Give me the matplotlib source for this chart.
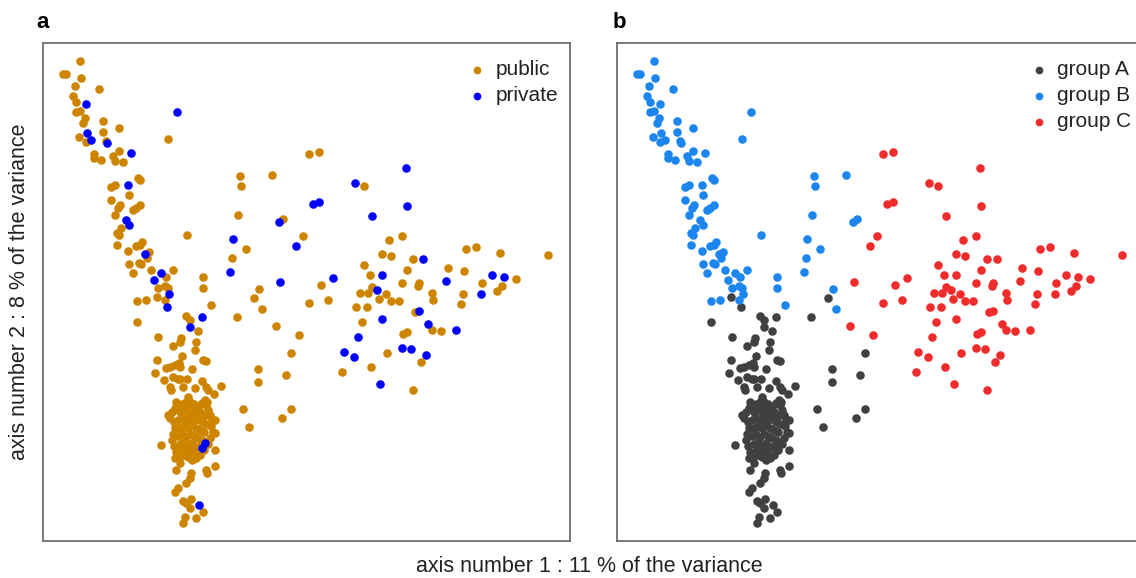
import numpy as np
import matplotlib
matplotlib.use("Agg")
import matplotlib.pyplot as plt

# PCA scores (axis 1, axis 2), one list per genetic group,
# third field = sector of the sample (public / private)
group_a = [
    (157, 297, "pu"), (167, 307, "pr"), (254, 298, "pu"), (237, 317, "pu"), (137, 322, "pu"),
    (186, 316, "pu"), (190, 320, "pu"), (202, 317, "pr"), (190, 327, "pr"), (198, 331, "pu"),
    (158, 337, "pu"), (181, 338, "pu"), (180, 342, "pu"), (196, 342, "pu"), (173, 346, "pu"),
    (195, 350, "pu"), (182, 356, "pu"), (157, 360, "pu"), (203, 360, "pu"), (206, 361, "pu"),
    (166, 368, "pu"), (170, 367, "pu"), (175, 365, "pu"), (179, 363, "pu"), (180, 367, "pu"),
    (192, 369, "pu"), (155, 373, "pu"), (164, 380, "pu"), (173, 377, "pu"), (178, 379, "pu"),
    (180, 379, "pu"), (187, 379, "pu"), (170, 387, "pu"), (171, 390, "pu"), (183, 387, "pu"),
    (195, 388, "pu"), (202, 381, "pu"), (206, 387, "pu"), (208, 390, "pu"), (214, 394, "pu"),
    (221, 386, "pu"), (176, 402, "pu"), (188, 397, "pu"), (190, 402, "pu"), (205, 400, "pu"),
    (207, 402, "pu"),
    (291, 353, "pu"), (258, 369, "pu"), (258, 382, "pu"), (286, 375, "pu"), (243, 409, "pu"),
    (291, 409, "pu"), (282, 418, "pu"), (249, 427, "pu"),
    # dense core
    (168, 415, "pu"), (170, 418, "pu"), (172, 412, "pu"), (175, 408, "pu"), (178, 405, "pu"),
    (182, 404, "pu"), (186, 402, "pu"), (190, 405, "pu"), (194, 404, "pu"), (198, 407, "pu"),
    (202, 403, "pu"), (206, 405, "pu"), (208, 410, "pu"), (210, 415, "pu"), (212, 420, "pu"),
    (211, 426, "pu"), (213, 432, "pu"), (210, 438, "pu"), (208, 444, "pu"), (204, 450, "pu"),
    (200, 455, "pu"), (196, 458, "pu"), (192, 460, "pu"), (188, 457, "pu"), (184, 455, "pu"),
    (180, 456, "pu"), (176, 452, "pu"), (174, 446, "pu"), (172, 440, "pu"), (173, 434, "pu"),
    (175, 428, "pu"), (174, 422, "pu"),
    (180, 412, "pu"), (184, 410, "pu"), (188, 412, "pu"), (192, 410, "pu"), (196, 413, "pu"),
    (200, 412, "pu"), (204, 416, "pu"), (178, 420, "pu"), (182, 418, "pu"), (186, 420, "pu"),
    (190, 418, "pu"), (194, 420, "pu"), (198, 419, "pu"), (202, 422, "pu"), (206, 424, "pu"),
    (180, 428, "pu"), (184, 426, "pu"), (188, 428, "pu"), (192, 425, "pu"), (196, 428, "pu"),
    (200, 430, "pu"), (204, 432, "pu"), (178, 436, "pu"), (182, 434, "pu"), (186, 437, "pu"),
    (190, 434, "pu"), (194, 436, "pu"), (198, 438, "pu"), (202, 440, "pu"), (180, 444, "pu"),
    (184, 442, "pu"), (188, 446, "pu"), (192, 443, "pu"), (196, 447, "pu"), (200, 446, "pu"),
    (182, 450, "pu"), (186, 452, "pu"), (190, 450, "pu"), (194, 452, "pu"),
    (215, 420, "pu"), (215, 433, "pu"),
    # tail
    (161, 445, "pu"), (205, 443, "pr"), (202, 448, "pr"), (215, 450, "pu"), (175, 458, "pu"),
    (180, 463, "pu"), (176, 470, "pu"), (206, 470, "pu"), (207, 473, "pu"), (215, 466, "pu"),
    (191, 473, "pu"), (190, 478, "pu"), (186, 483, "pu"), (178, 488, "pu"), (175, 492, "pu"),
    (183, 501, "pu"), (186, 503, "pu"), (191, 499, "pu"), (190, 508, "pu"), (199, 505, "pr"),
    (203, 512, "pu"), (196, 518, "pu"), (185, 517, "pu"), (183, 523, "pu"),
]

group_b = [
    (80, 61, "pu"), (63, 74, "pu"), (66, 74, "pu"), (81, 78, "pu"), (75, 86, "pu"),
    (99, 89, "pu"), (73, 96, "pu"), (76, 102, "pu"), (86, 104, "pr"), (76, 112, "pu"),
    (80, 111, "pu"), (85, 118, "pu"), (83, 123, "pu"), (103, 121, "pu"), (119, 128, "pu"),
    (103, 132, "pu"), (177, 112, "pr"), (168, 139, "pu"), (87, 133, "pr"), (91, 140, "pr"),
    (79, 137, "pu"), (86, 142, "pu"), (106, 141, "pu"), (107, 143, "pr"), (131, 153, "pr"),
    (119, 151, "pu"), (94, 154, "pu"), (94, 158, "pu"), (101, 160, "pu"), (113, 156, "pu"),
    (115, 161, "pu"), (123, 162, "pu"), (138, 178, "pu"), (140, 180, "pu"), (111, 187, "pu"),
    (115, 185, "pu"), (128, 185, "pr"), (129, 195, "pu"), (111, 200, "pu"), (120, 205, "pu"),
    (118, 208, "pu"), (133, 210, "pu"), (136, 208, "pu"), (140, 205, "pu"), (115, 215, "pu"),
    (126, 220, "pr"), (129, 225, "pr"), (121, 228, "pu"), (117, 233, "pu"), (119, 235, "pu"),
    (187, 235, "pu"), (117, 245, "pu"), (136, 246, "pu"), (140, 245, "pu"), (142, 242, "pu"),
    (128, 251, "pu"), (149, 252, "pu"), (145, 254, "pr"), (147, 258, "pu"), (129, 264, "pu"),
    (139, 263, "pu"), (141, 264, "pu"), (133, 273, "pu"), (151, 270, "pu"), (173, 270, "pu"),
    (161, 273, "pr"), (154, 280, "pr"), (166, 277, "pu"), (203, 277, "pu"), (203, 288, "pu"),
    (158, 288, "pu"), (165, 286, "pu"), (168, 288, "pu"), (169, 294, "pr"),
    (137, 301, "pu"), (146, 300, "pu"), (165, 300, "pu"), (211, 305, "pu"),
    (240, 176, "pu"), (241, 186, "pu"), (272, 175, "pu"), (238, 215, "pu"), (283, 219, "pu"),
    (279, 222, "pr"), (233, 239, "pr"), (246, 249, "pu"), (232, 258, "pu"), (230, 272, "pr"),
    (259, 289, "pu"), (262, 309, "pu"),
]

group_c = [
    (309, 154, "pu"), (319, 152, "pu"), (355, 183, "pr"), (364, 186, "pu"), (313, 204, "pr"),
    (319, 202, "pr"), (372, 216, "pr"), (303, 236, "pu"), (296, 246, "pr"), (389, 240, "pu"),
    (382, 254, "pu"), (391, 256, "pu"), (364, 265, "pu"), (280, 282, "pr"), (333, 278, "pr"),
    (370, 275, "pu"), (382, 275, "pr"), (321, 285, "pu"), (372, 287, "pu"), (377, 290, "pr"),
    (360, 293, "pu"), (368, 293, "pu"), (386, 294, "pu"),
    (406, 168, "pr"), (407, 206, "pr"), (402, 236, "pu"), (413, 259, "pu"), (423, 259, "pr"),
    (466, 249, "pu"), (476, 247, "pu"), (500, 253, "pu"), (548, 255, "pu"), (407, 270, "pu"),
    (448, 268, "pu"), (464, 271, "pu"), (492, 275, "pr"), (504, 277, "pr"), (516, 279, "pu"),
    (402, 283, "pu"), (419, 283, "pu"), (418, 286, "pu"), (446, 281, "pr"), (482, 283, "pu"),
    (502, 286, "pu"), (497, 291, "pu"), (481, 294, "pr"), (432, 293, "pu"), (463, 294, "pu"),
    (309, 303, "pu"), (328, 300, "pu"), (379, 299, "pu"), (391, 301, "pu"), (356, 307, "pu"),
    (367, 307, "pu"), (362, 322, "pu"), (382, 319, "pr"), (276, 326, "pu"), (299, 335, "pu"),
    (358, 337, "pr"), (344, 352, "pr"), (354, 357, "pr"), (387, 353, "pu"), (342, 372, "pu"),
    (371, 367, "pu"), (380, 384, "pr"),
    (399, 301, "pu"), (433, 300, "pu"), (461, 304, "pu"), (419, 311, "pr"), (415, 312, "pu"),
    (428, 324, "pr"), (432, 330, "pu"), (441, 331, "pu"), (456, 330, "pr"), (403, 334, "pu"),
    (407, 332, "pu"), (402, 348, "pr"), (411, 349, "pr"), (426, 355, "pr"), (421, 362, "pu"),
    (413, 390, "pu"),
]

groups = {"group A": group_a, "group B": group_b, "group C": group_c}
group_colors = {"group A": "#404040", "group B": "#1C86EE", "group C": "#EE2C2C"}
sector_names = {"pu": "public", "pr": "private"}
sector_colors = {"public": "#CD8500", "private": "#0000FF"}

x_range = (43, 570)
y_range = (541, 43)   # axis 2 runs upward

plt.rcParams["font.family"] = ["Liberation Sans", "DejaVu Sans"]

fig = plt.figure(figsize=(11.36, 5.78), dpi=100)
ax_a = fig.add_axes([43 / 1136, 37 / 578, 527 / 1136, 498 / 578])
ax_b = fig.add_axes([617 / 1136, 37 / 578, 527 / 1136, 498 / 578])

all_pts = group_a + group_b + group_c
xs = np.array([p[0] for p in all_pts], dtype=float)
ys = np.array([p[1] for p in all_pts], dtype=float)
sec = np.array([sector_names[p[2]] for p in all_pts])

msize = 38
for name in ["public", "private"]:
    m = sec == name
    ax_a.scatter(xs[m], ys[m], s=msize, c=sector_colors[name], linewidths=0, label=name)

for name, pts in groups.items():
    gx = [p[0] for p in pts]
    gy = [p[1] for p in pts]
    ax_b.scatter(gx, gy, s=msize, c=group_colors[name], linewidths=0, label=name)

for ax in (ax_a, ax_b):
    ax.set_xlim(*x_range)
    ax.set_ylim(*y_range)
    ax.set_xticks([])
    ax.set_yticks([])
    for sp in ax.spines.values():
        sp.set_color("#6e6e6e")
        sp.set_linewidth(1.3)

leg_kw = dict(frameon=False, loc="upper left", fontsize=15, borderpad=0, borderaxespad=0,
              handlelength=0.8, handletextpad=0.5, labelspacing=0.33, markerscale=0.9,
              labelcolor="#222222")
ax_a.legend(bbox_to_anchor=(0.808, 0.965), **leg_kw)
ax_b.legend(bbox_to_anchor=(0.784, 0.965), **leg_kw)

fig.text(36 / 1136, 1 - 22 / 578, "a", fontsize=16, fontweight="bold", va="center", ha="left")
fig.text(613 / 1136, 1 - 22 / 578, "b", fontsize=16, fontweight="bold", va="center", ha="left")

fig.text(20 / 1136, 1 - 292 / 578, "axis number 2 : 8 % of the variance", rotation=90,
         fontsize=15.5, va="center", ha="center", color="#222222")
fig.text(589 / 1136, 1 - 566 / 578, "axis number 1 : 11 % of the variance",
         fontsize=15.5, va="center", ha="center", color="#222222")

fig.savefig("out.png", dpi=100)
